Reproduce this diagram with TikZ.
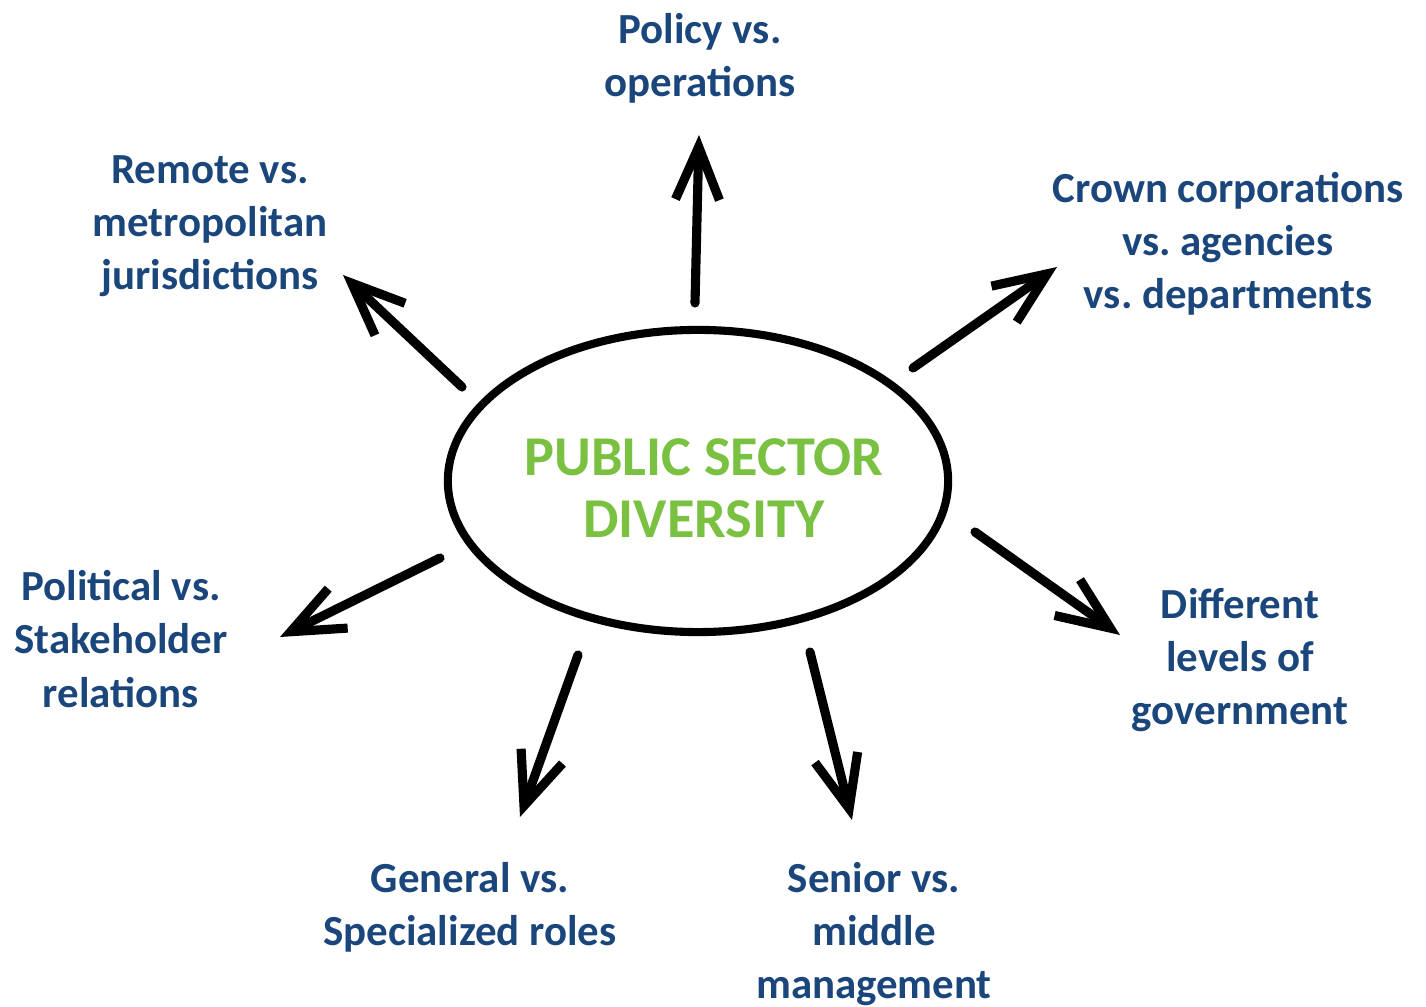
\documentclass[tikz,border=0pt]{standalone}
\usepackage{fontspec}
\setmainfont{Carlito}
\usetikzlibrary{shapes.geometric}
\usetikzlibrary{arrows.meta}
\definecolor{navy}{RGB}{26,70,124}
\definecolor{leaf}{RGB}{122,193,66}
\tikzset{
  lbl/.style={text=navy, font=\bfseries\fontsize{12.2}{15.1}\selectfont, align=center, inner sep=0pt},
  spoke/.style={line width=2.6pt, line cap=round,
    -{Straight Barb[length=15pt, width=12.5pt]}}
}

\begin{document}
\begin{tikzpicture}[x=0.01cm, y=-0.01cm]
    \useasboundingbox (0,0) rectangle (1426,1007);
    % centre
    \node[ellipse, draw=black, line width=2.3pt, minimum width=5cm, minimum height=3.02cm,
          inner sep=0pt] (core) at (698,481) {};
    \node[text=leaf, align=center, inner sep=0pt,
          font=\bfseries\fontsize{16}{17.6}\selectfont] (title) at (704,488)
          {PUBLIC SECTOR\\DIVERSITY};
    % labels
    \node[lbl] (policy) at (700,58) {Policy vs.\\operations};
    \node[lbl] (remote) at (210,226) {Remote vs.\\metropolitan\\jurisdictions};
    \node[lbl] (crown) at (1228,244) {Crown corporations\\vs.\ agencies\\vs.\ departments};
    \node[lbl] (political) at (121,639) {Political vs.\\Stakeholder\\relations};
    \node[lbl] (levels) at (1240,660) {Different\\levels of\\government};
    \node[lbl] (general) at (470,907) {General vs.\\Specialized roles};
    \node[lbl] (senior) at (874,934) {Senior vs.\\middle\\management};
    % arrow ends
    \coordinate (policy-s) at (695,303);    \coordinate (policy-e) at (699,135);
    \coordinate (remote-s) at (462,387);    \coordinate (remote-e) at (343,275);
    \coordinate (crown-s) at (913,368);     \coordinate (crown-e) at (1057,267);
    \coordinate (political-s) at (440,558); \coordinate (political-e) at (280,637);
    \coordinate (levels-s) at (975,532);    \coordinate (levels-e) at (1120,635);
    \coordinate (general-s) at (578,655);   \coordinate (general-e) at (520,817);
    \coordinate (senior-s) at (810,652);    \coordinate (senior-e) at (852,820);
    \foreach \n in {policy, remote, crown, political, levels, general, senior}
        \draw[spoke] (\n-s) -- (\n-e);
\end{tikzpicture}
\end{document}
